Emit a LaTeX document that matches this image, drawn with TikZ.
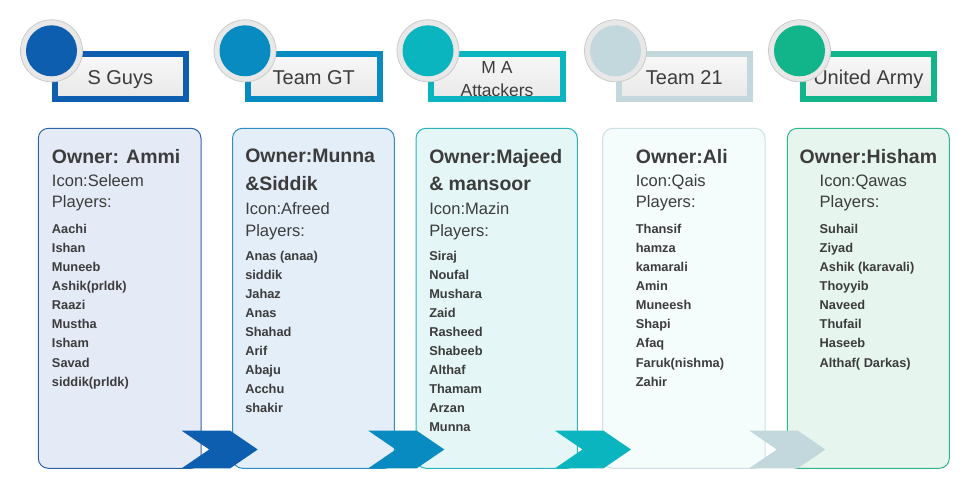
\documentclass[tikz,border=0pt]{standalone}
\usepackage{fontspec}
\setmainfont{Liberation Sans}
\definecolor{teamA}{HTML}{0D5EAE}
\definecolor{teamB}{HTML}{088BC0}
\definecolor{teamC}{HTML}{0BB5C0}
\definecolor{teamD}{HTML}{C2D8DC}
\definecolor{teamE}{HTML}{12B48A}
\definecolor{cardA}{HTML}{E5EBF6}
\definecolor{cardB}{HTML}{E4EEF8}
\definecolor{cardC}{HTML}{E5F6F6}
\definecolor{cardD}{HTML}{F5FCFC}
\definecolor{cardE}{HTML}{E6F5EE}
\definecolor{edgeA}{HTML}{2C64A5}
\definecolor{edgeB}{HTML}{2F8DBF}
\definecolor{edgeC}{HTML}{2AB3BC}
\definecolor{edgeD}{HTML}{CDE0E3}
\definecolor{edgeE}{HTML}{2FB48D}
\definecolor{hdrtop}{HTML}{F8F8F8}
\definecolor{hdrbot}{HTML}{E8E8E8}
\definecolor{ringgray}{HTML}{E8E8E8}
\definecolor{ringedge}{HTML}{CBCBCB}
\definecolor{txt}{HTML}{3C3C3C}
\def\chevron[#1](#2){\fill[#1] (#2) -- ++(48.5,0) -- ++(27.5,18.8) -- ++(-27.5,18.8) -- ++(-48.5,0) -- ++(27.5,-18.8) -- cycle;}

\begin{document}
\begin{tikzpicture}[x=0.75pt,y=-0.75pt,
	card/.style={rounded corners=7.5pt,line width=0.75pt},
	hdrbox/.style={line width=4.5pt,top color=hdrtop,bottom color=hdrbot},
	ring/.style={fill=ringgray,draw=ringedge,line width=0.6pt},
	hdrtext/.style={inner sep=0pt,anchor=base,text=txt,font=\fontsize{15}{18}\selectfont},
	owner/.style={inner sep=0pt,anchor=north west,align=left,text=txt,font=\fontsize{14.6}{20.5}\selectfont\bfseries},
	icon/.style={inner sep=0pt,anchor=base west,text=txt,font=\fontsize{12.4}{15}\selectfont},
	names/.style={inner sep=0pt,anchor=north west,align=left,text=txt,font=\fontsize{9.6}{14.3}\selectfont\bfseries}]
			%%%%% START %%%%%
			\useasboundingbox (0, 0) rectangle (969, 488);
			
			% cards
			\draw[card, fill=cardA, draw=edgeA] (38.3, 128.3) rectangle (201, 468.3);
			\draw[card, fill=cardB, draw=edgeB] (232.5, 128.3) rectangle (394.3, 468.3);
			\draw[card, fill=cardC, draw=edgeC] (416, 128.3) rectangle (577.3, 468.3);
			\draw[card, fill=cardD, draw=edgeD] (602.7, 128.3) rectangle (765, 468.3);
			\draw[card, fill=cardE, draw=edgeE] (787.3, 128.3) rectangle (949.3, 468.3);
			
			% arrows between the cards
			\chevron[teamA](181.7, 430.7)
			\chevron[teamB](368.3, 430.7)
			\chevron[teamC](555, 430.7)
			\chevron[teamD](749.3, 430.7)
			
			% headers
			\draw[hdrbox, draw=teamA] (54.5, 54) rectangle (186, 99.5);
			\node[hdrtext] (hdr1) at (120.3, 85) {S Guys};
			\draw[ring] (51.5, 50.8) circle (31);
			\fill[teamA] (51.5, 50.8) circle (25.5);
			
			\draw[hdrbox, draw=teamB] (248, 54) rectangle (379.5, 99.5);
			\node[hdrtext] (hdr2) at (313.8, 85) {Team GT};
			\draw[ring] (245, 50.8) circle (31);
			\fill[teamB] (245, 50.8) circle (25.5);
			
			\draw[hdrbox, draw=teamC] (431, 54) rectangle (562.5, 99.5);
			\node[hdrtext, anchor=center, align=center, font=\fontsize{13.1}{17.5}\selectfont] (hdr3) at (497, 79) {M A\\Attackers};
			\draw[ring] (428, 50.8) circle (31);
			\fill[teamC] (428, 50.8) circle (25.5);
			
			\draw[hdrbox, draw=teamD] (618.5, 54) rectangle (750, 99.5);
			\node[hdrtext] (hdr4) at (684.3, 85) {Team 21};
			\draw[ring] (615.5, 50.8) circle (31);
			\fill[teamD] (615.5, 50.8) circle (25.5);
			
			\draw[hdrbox, draw=teamE] (802.5, 54) rectangle (934, 99.5);
			\node[hdrtext] (hdr5) at (868.3, 85) {United Army};
			\draw[ring] (799.5, 50.8) circle (31);
			\fill[teamE] (799.5, 50.8) circle (25.5);
			
			% card 1
			\node[owner] (own1) at (51.7, 149.1) {Owner: Ammi};
			\node[icon] (icon1) at (51.7, 187) {Icon:Seleem};
			\node[icon] (play1) at (51.7, 208) {Players:};
			\node[names] (list1) at (51.7, 224) {Aachi\\Ishan\\Muneeb\\Ashik(prldk)\\Raazi\\Mustha\\Isham\\Savad\\siddik(prldk)};
			
			% card 2
			\node[owner] (own2) at (245, 149.1) {Owner:Munna\\\&Siddik};
			\node[icon] (icon2) at (245, 214.5) {Icon:Afreed};
			\node[icon] (play2) at (245, 236) {Players:};
			\node[names] (list2) at (245, 250.7) {Anas (anaa)\\siddik\\Jahaz\\Anas\\Shahad\\Arif\\Abaju\\Acchu\\shakir};
			
			% card 3
			\node[owner] (own3) at (429, 149.1) {Owner:Majeed\\\& mansoor};
			\node[icon] (icon3) at (429, 214.5) {Icon:Mazin};
			\node[icon] (play3) at (429, 236) {Players:};
			\node[names] (list3) at (429, 250.7) {Siraj\\Noufal\\Mushara\\Zaid\\Rasheed\\Shabeeb\\Althaf\\Thamam\\Arzan\\Munna};
			
			% card 4
			\node[owner] (own4) at (635.6, 149.1) {Owner:Ali};
			\node[icon] (icon4) at (635.6, 187) {Icon:Qais};
			\node[icon] (play4) at (635.6, 208) {Players:};
			\node[names] (list4) at (635.6, 224) {Thansif\\hamza\\kamarali\\Amin\\Muneesh\\Shapi\\Afaq\\Faruk(nishma)\\Zahir};
			
			% card 5
			\node[owner] (own5) at (799.4, 149.1) {Owner:Hisham};
			\node[icon] (icon5) at (819.4, 187) {Icon:Qawas};
			\node[icon] (play5) at (819.4, 208) {Players:};
			\node[names] (list5) at (819.4, 224) {Suhail\\Ziyad\\Ashik (karavali)\\Thoyyib\\Naveed\\Thufail\\Haseeb\\Althaf( Darkas)};
			
			%%%%% END %%%%%
\end{tikzpicture}
\end{document}
